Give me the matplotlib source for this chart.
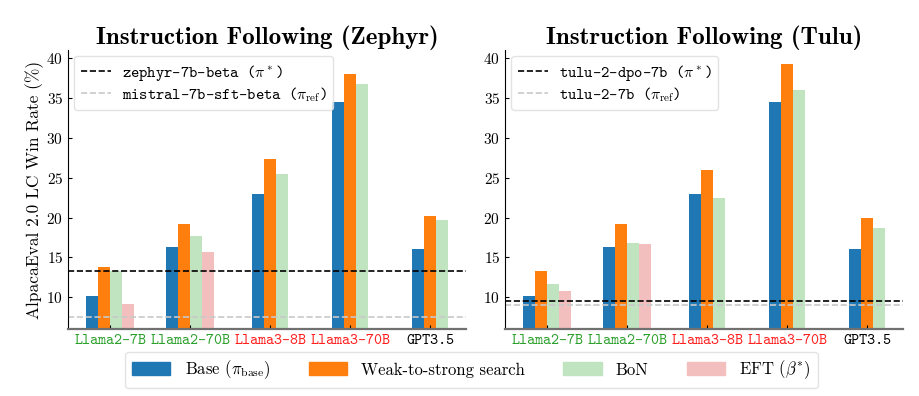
import matplotlib
matplotlib.use("Agg")
import matplotlib.pyplot as plt
from matplotlib import rcParams
from matplotlib.patches import Patch
import numpy as np

rcParams.update({
    "font.family": "serif",
    "font.serif": ["cmr10", "DejaVu Serif"],
    "mathtext.fontset": "cm",
    "axes.formatter.use_mathtext": True,
    "font.size": 11,
    "axes.unicode_minus": False,
})

models = ["Llama2-7B", "Llama2-70B", "Llama3-8B", "Llama3-70B", "GPT3.5"]
model_colours = ["tab:green", "tab:green", "#ff1f1f", "#ff1f1f", "black"]
methods = ["Base ($\\pi_{\\mathrm{base}}$)", "Weak-to-strong search", "BoN",
           "EFT ($\\beta^{*}$)"]
method_colours = ["#1f77b4", "#ff7f0e", "#c0e3c0", "#f3bebe"]

# Zephyr panel
zephyr_base = [10.2, 16.3, 23.0, 34.5, 16.0]
zephyr_w2s = [13.8, 19.2, 27.3, 38.0, 20.2]
zephyr_bon = [13.25, 17.7, 25.4, 36.7, 19.7]
zephyr_eft = [9.2, 15.7, None, None, None]
zephyr_star, zephyr_ref = 13.25, 7.6

# Tulu panel
tulu_base = [10.2, 16.3, 23.0, 34.5, 16.0]
tulu_w2s = [13.3, 19.2, 26.0, 39.2, 19.9]
tulu_bon = [11.7, 16.8, 22.5, 36.0, 18.7]
tulu_eft = [10.8, 16.7, None, None, None]
tulu_star, tulu_ref = 9.5, 9.1

W = 0.15


def panel(ax, series, star, ref, star_name, ref_name, title):
    # groups without EFT are centred on their middle bar
    for i in range(len(models)):
        vals = [s[i] for s in series]
        present = [(j, v) for j, v in enumerate(vals) if v is not None]
        n = len(present)
        for k, (j, v) in enumerate(present):
            x = i + (k - (n - 1) / 2) * W
            ax.bar(x, v - 6, bottom=6, width=W, color=method_colours[j])
    ax.axhline(star, color="black", ls="--", lw=1.2,
               label=f"{star_name} ($\\pi^*$)")
    ax.axhline(ref, color="#c8c8c8", ls="--", lw=1.2,
               label=f"{ref_name} ($\\pi_{{\\mathrm{{ref}}}}$)")
    ax.set_xticks(range(len(models)))
    ax.set_xticklabels(models, family="cmtt10", fontsize=10)
    for lbl, c in zip(ax.get_xticklabels(), model_colours):
        lbl.set_color(c)
    ax.set_ylim(6, 41)
    ax.set_xlim(-0.53, 4.45)
    ax.set_yticks([10, 15, 20, 25, 30, 35, 40])
    ax.tick_params(direction="in", length=3, labelsize=11)
    ax.spines["top"].set_visible(False)
    ax.spines["right"].set_visible(False)
    ax.spines["bottom"].set_color("#707070")
    ax.spines["bottom"].set_linewidth(1.6)
    ax.set_title(title, family="cmb10", fontsize=18, pad=3)
    leg = ax.legend(loc="upper left", handlelength=1.9, labelspacing=0.15,
                    handletextpad=0.7, borderaxespad=0.4,
                    prop={"family": "cmtt10", "size": 11.4})
    leg.get_frame().set_edgecolor("#dddddd")


fig = plt.figure(figsize=(9.2, 3.96), dpi=100)
ax1 = fig.add_axes([0.0739, 0.1684, 0.4326, 0.7056])
ax2 = fig.add_axes([0.549, 0.1684, 0.4326, 0.7056])

panel(ax1, [zephyr_base, zephyr_w2s, zephyr_bon, zephyr_eft],
      zephyr_star, zephyr_ref, "zephyr-7b-beta", "mistral-7b-sft-beta",
      "Instruction Following (Zephyr)")
panel(ax2, [tulu_base, tulu_w2s, tulu_bon, tulu_eft],
      tulu_star, tulu_ref, "tulu-2-dpo-7b", "tulu-2-7b",
      "Instruction Following (Tulu)")
ax1.set_ylabel("AlpacaEval 2.0 LC Win Rate (%)", fontsize=12.5, labelpad=2)

handles = [Patch(color=c, label=m) for c, m in zip(method_colours, methods)]
fleg = fig.legend(handles=handles, loc="lower center", ncol=4,
                  bbox_to_anchor=(0.5125, 0.02), borderaxespad=0,
                  fontsize=12, handlelength=2.3, handleheight=0.8,
                  handletextpad=0.85, columnspacing=2.3)
fleg.get_frame().set_edgecolor("#dddddd")

fig.savefig("out.png", dpi=100)
